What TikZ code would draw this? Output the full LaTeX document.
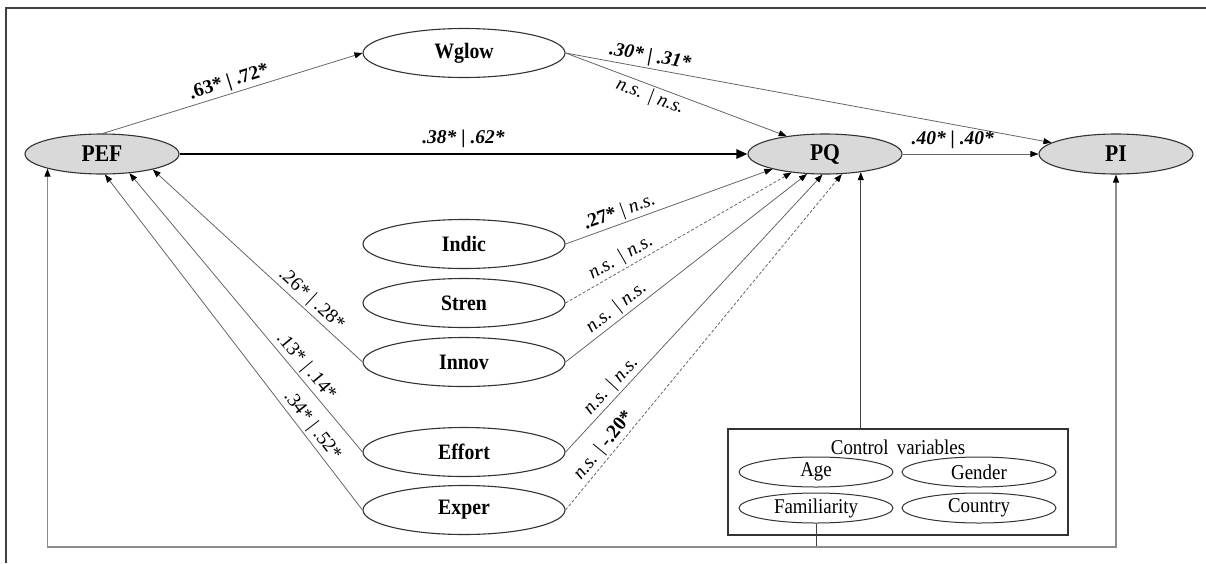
\documentclass[tikz,border=0pt]{standalone}
\usepackage{fontspec}
\setmainfont{Liberation Serif}
\newfontfamily\tallserif[FakeStretch=0.9]{Liberation Serif}
\usetikzlibrary{arrows.meta,shapes.geometric}
\begin{document}
\begin{tikzpicture}[x=1pt,y=-1pt,
  every node/.style={inner sep=0pt},
  mainvar/.style={ellipse, draw=black!80, line width=1.1pt, fill=black!15,
    minimum width=154, minimum height=40, font=\tallserif\fontsize{24}{27}\selectfont\bfseries},
  latent/.style={ellipse, draw=black!80, line width=1.1pt, fill=white,
    minimum width=202, minimum height=49, font=\tallserif\fontsize{22}{25}\selectfont\bfseries},
  ctrlvar/.style={ellipse, draw=black!80, line width=1pt, fill=white,
    minimum width=154, minimum height=30, font=\tallserif\fontsize{21}{24}\selectfont},
  conn/.style={draw=black!60, line width=0.8pt, -{Triangle[black,length=8pt,width=6pt]}},
  nsconn/.style={conn, dash pattern=on 3pt off 2pt},
  mainconn/.style={draw=black, line width=2.6pt, -{Triangle[black,length=11pt,width=9pt]}},
  feedback/.style={draw=black!45, line width=1.2pt},
  lbl/.style={inner sep=2pt, font=\fontsize{19.5}{22}\selectfont},
  blbl/.style={lbl, font=\fontsize{19.5}{22}\selectfont\bfseries},
  bilbl/.style={lbl, font=\fontsize{19.5}{22}\selectfont\bfseries\itshape},
  ilbl/.style={lbl, font=\fontsize{19.5}{22}\selectfont\itshape}
]
\useasboundingbox (0,0) rectangle (1206,563);

% partial frame
\draw[black!75, line width=1.2pt] (6,563) -- (6,8) -- (1206,8);

% constructs
\node[mainvar] (PEF) at (102,154) {PEF};
\node[mainvar] (PQ)  at (825,154) {PQ};
\node[mainvar] (PI)  at (1116,154) {PI};
\node[latent] (Wglow)  at (464,53)  {Wglow};
\node[latent] (Indic)  at (464,244) {Indic};
\node[latent] (Stren)  at (464,303) {Stren};
\node[latent] (Innov)  at (464,362) {Innov};
\node[latent] (Effort) at (464,452) {Effort};
\node[latent] (Exper)  at (464,510) {Exper};

% control variables
\node[draw=black!80, line width=1.1pt, minimum width=340, minimum height=106] (cv) at (898,482) {};
\node[font=\tallserif\fontsize{21}{24}\selectfont] (cvtitle) at (898,447) {Control\, variables};
\node[ctrlvar] (Age)     at (816,472) {Age};
\node[ctrlvar] (Gender)  at (979,472) {Gender};
\node[ctrlvar] (Famil)   at (816,508) {Familiarity};
\node[ctrlvar] (Country) at (979,508) {Country};

% structural paths
\draw[conn] (PEF.88) -- node[blbl, pos=0.5, sloped, above] {.63* | .72*} (Wglow.west);
\draw[mainconn] (PEF.east) -- node[bilbl, pos=0.5, above=3pt] {.38* | .62*} (PQ.west);
\draw[conn] (Wglow.east) -- node[bilbl, pos=0.17, sloped, above] {.30* | .31*} (PI.170);
\draw[conn] (Wglow.east) -- node[ilbl, pos=0.4, sloped, below] {n.s. | n.s.} (PQ.155);
\draw[conn] (PQ.east) -- node[bilbl, pos=0.37, above=3pt] {.40* | .40*} (PI.west);

% paths into PQ
\draw[conn] (Indic.east) -- node[lbl, pos=0.28, sloped, above] {\textbf{.27*} | \textit{n.s.}} (PQ.196);
\draw[nsconn] (Stren.east) -- node[ilbl, pos=0.27, sloped, above] {n.s. | n.s.} (PQ.209);
\draw[conn] (Innov.east) -- node[ilbl, pos=0.24, sloped, above] {n.s. | n.s.} (PQ.228);
\draw[conn] (Effort.east) -- node[ilbl, pos=0.21, sloped, above] {n.s. | n.s.} (PQ.263);
\draw[nsconn] (Exper.east) -- node[lbl, pos=0.17, sloped, above] {\textit{n.s.} | \textbf{-.20*}} (PQ.310);

% paths into PEF
\draw[conn] (Innov.west) -- node[lbl, pos=0.28, sloped, above] {.26* | .28*} (PEF.-17);
\draw[conn] (Effort.west) -- node[lbl, pos=0.28, sloped, above] {.13* | .14*} (PEF.-35);
\draw[conn] (Exper.west) -- node[lbl, pos=0.23, sloped, above] {.34* | .52*} (PEF.-82);

% control variables to outcomes
\draw[conn, draw=black!75] (PQ.-27 |- cv.north) -- (PQ.-27);
\coordinate (bus) at (816,547);
\draw[draw=black!75, line width=0.8pt] (Famil.south) -- (bus);
\draw[feedback, -{Triangle[black,length=8pt,width=6pt]}] (bus) -| (PEF.-165);
\draw[feedback, -{Triangle[black,length=8pt,width=6pt]}] (bus) -| (PI.south);
\end{tikzpicture}
\end{document}
